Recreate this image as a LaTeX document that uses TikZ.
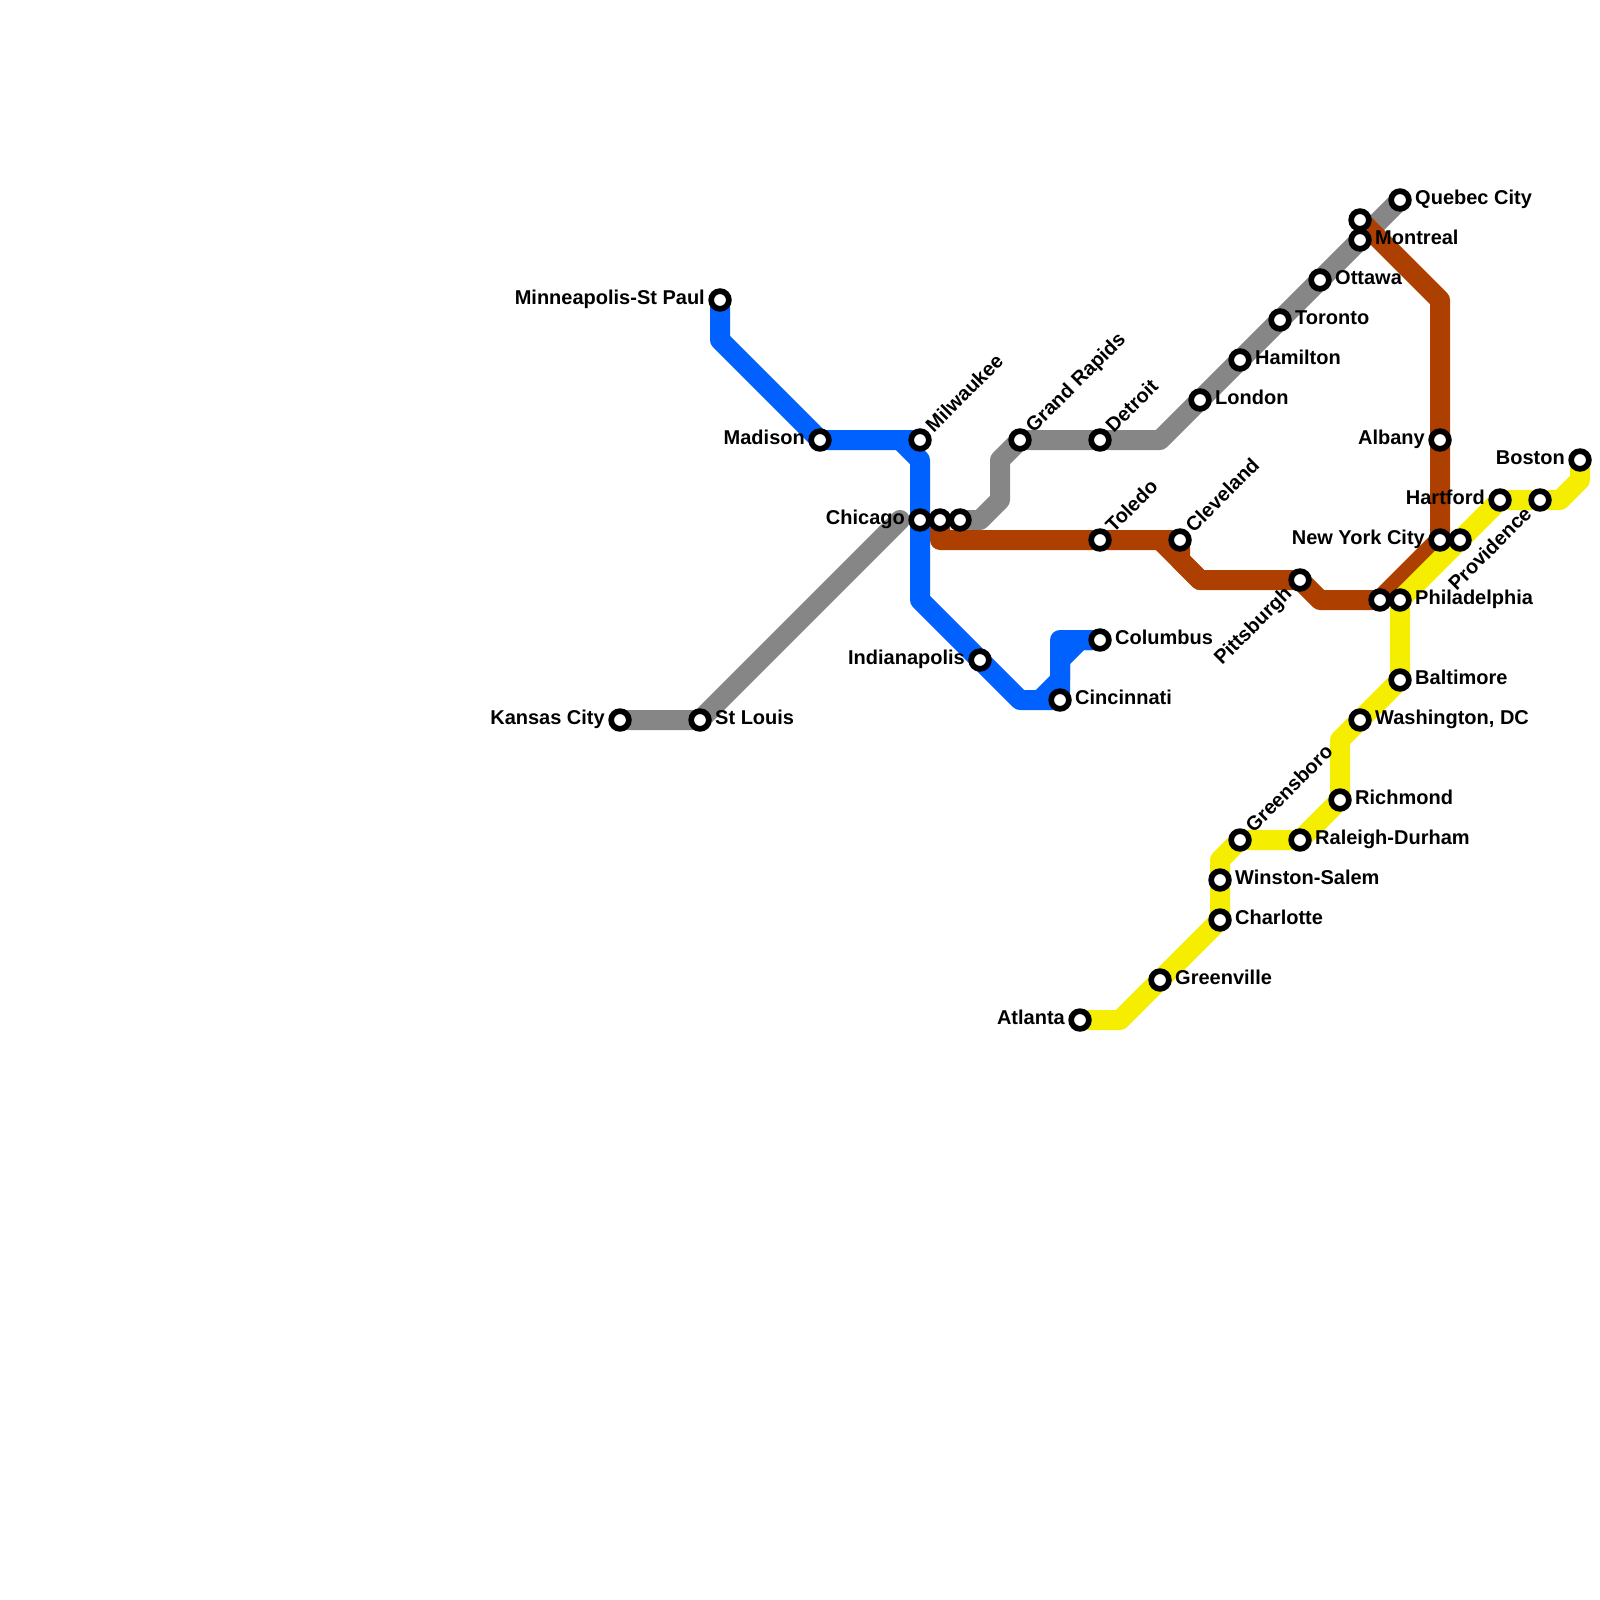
\documentclass[tikz,border=0pt]{standalone}
\usepackage{fontspec}
\setmainfont{Liberation Sans}
\usetikzlibrary{backgrounds}
\definecolor{metroblue}{HTML}{0061FF}
\definecolor{metrogray}{HTML}{868686}
\definecolor{metrobrown}{HTML}{AD3F00}
\definecolor{metroyellow}{HTML}{F5EE00}
\tikzset{
  stn/.style={circle,draw=black,fill=white,line width=2.85pt,minimum size=8.85pt,inner sep=0pt,outer sep=0pt},
  basename/.style={font=\fontsize{10}{12}\selectfont\bfseries,text=black,inner sep=0pt,outer sep=0pt},
  nameright/.style={basename,anchor=base west,xshift=7.6pt,yshift=-2.4pt},
  nameleft/.style={basename,anchor=base east,xshift=-7.6pt,yshift=-2.4pt},
  nameup/.style={basename,anchor=base west,xshift=6.9pt,yshift=3.3pt,rotate=45},
  namedown/.style={basename,anchor=base east,xshift=-3.6pt,yshift=-7.6pt,rotate=45},
  metroline/.style={line width=10pt,line join=round,line cap=round}
}
\begin{document}
\begin{tikzpicture}[x=0.5pt,y=-0.5pt]
  \useasboundingbox (0,0) rectangle (1600,1600);
  \node[stn] (minneapolis) at (720,300) {};
  \node[stn] (madison) at (820,440) {};
  \node[stn] (milwaukee) at (920,440) {};
  \node[stn] (chicago) at (920,520) {};
  \node[stn] (chicagob) at (940,520) {};
  \node[stn] (chicagoc) at (960,520) {};
  \node[stn] (grandrapids) at (1020,440) {};
  \node[stn] (detroit) at (1100,440) {};
  \node[stn] (london) at (1200,400) {};
  \node[stn] (hamilton) at (1240,360) {};
  \node[stn] (toronto) at (1280,320) {};
  \node[stn] (ottawa) at (1320,280) {};
  \node[stn] (montrealb) at (1360,220) {};
  \node[stn] (montreal) at (1360,240) {};
  \node[stn] (quebec) at (1400,200) {};
  \node[stn] (albany) at (1440,440) {};
  \node[stn] (newyork) at (1440,540) {};
  \node[stn] (newyorkb) at (1460,540) {};
  \node[stn] (hartford) at (1500,500) {};
  \node[stn] (providence) at (1540,500) {};
  \node[stn] (boston) at (1580,460) {};
  \node[stn] (phillyb) at (1380,600) {};
  \node[stn] (philly) at (1400,600) {};
  \node[stn] (pittsburgh) at (1300,580) {};
  \node[stn] (baltimore) at (1400,680) {};
  \node[stn] (washington) at (1360,720) {};
  \node[stn] (richmond) at (1340,800) {};
  \node[stn] (raleigh) at (1300,840) {};
  \node[stn] (greensboro) at (1240,840) {};
  \node[stn] (winston) at (1220,880) {};
  \node[stn] (charlotte) at (1220,920) {};
  \node[stn] (greenville) at (1160,980) {};
  \node[stn] (atlanta) at (1080,1020) {};
  \node[stn] (toledo) at (1100,540) {};
  \node[stn] (cleveland) at (1180,540) {};
  \node[stn] (columbus) at (1100,640) {};
  \node[stn] (cincinnati) at (1060,700) {};
  \node[stn] (indianapolis) at (980,660) {};
  \node[stn] (kansascity) at (620,720) {};
  \node[stn] (stlouis) at (700,720) {};

  \node[nameleft] (minneapolisname) at (minneapolis) {Minneapolis-St Paul};
  \node[nameleft] (madisonname) at (madison) {Madison};
  \node[nameup] (milwaukeename) at (milwaukee) {Milwaukee};
  \node[nameleft] (chicagoname) at (chicago) {Chicago};
  \node[nameup] (grandrapidsname) at (grandrapids) {Grand Rapids};
  \node[nameup] (detroitname) at (detroit) {Detroit};
  \node[nameright] (londonname) at (london) {London};
  \node[nameright] (hamiltonname) at (hamilton) {Hamilton};
  \node[nameright] (torontoname) at (toronto) {Toronto};
  \node[nameright] (ottawaname) at (ottawa) {Ottawa};
  \node[nameright] (montrealname) at (montreal) {Montreal};
  \node[nameright] (quebecname) at (quebec) {Quebec City};
  \node[nameleft] (albanyname) at (albany) {Albany};
  \node[nameleft] (newyorkname) at (newyork) {New York City};
  \node[nameleft] (hartfordname) at (hartford) {Hartford};
  \node[namedown] (providencename) at (providence) {Providence};
  \node[nameleft] (bostonname) at (boston) {Boston};
  \node[nameright] (phillyname) at (philly) {Philadelphia};
  \node[namedown] (pittsburghname) at (pittsburgh) {Pittsburgh};
  \node[nameright] (baltimorename) at (baltimore) {Baltimore};
  \node[nameright] (washingtonname) at (washington) {Washington, DC};
  \node[nameright] (richmondname) at (richmond) {Richmond};
  \node[nameright] (raleighname) at (raleigh) {Raleigh-Durham};
  \node[nameup] (greensboroname) at (greensboro) {Greensboro};
  \node[nameright] (winstonname) at (winston) {Winston-Salem};
  \node[nameright] (charlottename) at (charlotte) {Charlotte};
  \node[nameright] (greenvillename) at (greenville) {Greenville};
  \node[nameleft] (atlantaname) at (atlanta) {Atlanta};
  \node[nameup] (toledoname) at (toledo) {Toledo};
  \node[nameup] (clevelandname) at (cleveland) {Cleveland};
  \node[nameright] (columbusname) at (columbus) {Columbus};
  \node[nameright] (cincinnatiname) at (cincinnati) {Cincinnati};
  \node[nameleft] (indianapolisname) at (indianapolis) {Indianapolis};
  \node[nameleft] (kansascityname) at (kansascity) {Kansas City};
  \node[nameright] (stlouisname) at (stlouis) {St Louis};

  \coordinate (grayend) at (900,520);
  \coordinate (grayb) at (980,520);
  \coordinate (grayc) at (1000,500);
  \coordinate (grayd) at (1000,460);
  \coordinate (graye) at (1160,440);
  \coordinate (brownb) at (940,540);
  \coordinate (brownc) at (1180,560);
  \coordinate (brownd) at (1200,580);
  \coordinate (browne) at (1320,600);
  \coordinate (brownf) at (1440,300);
  \coordinate (brownsplit) at (1160,540);
  \coordinate (blueb) at (720,340);
  \coordinate (bluec) at (900,440);
  \coordinate (blued) at (920,460);
  \coordinate (bluee) at (920,600);
  \coordinate (bluef) at (1020,700);
  \coordinate (blueg) at (1040,700);
  \coordinate (blueh) at (1060,680);
  \coordinate (bluei) at (1060,640);
  \coordinate (bluej) at (1060,660);
  \coordinate (bluek) at (1080,640);
  \coordinate (yellowb) at (1580,480);
  \coordinate (yellowc) at (1560,500);
  \coordinate (yellowd) at (1340,740);
  \coordinate (yellowe) at (1220,860);
  \coordinate (yellowf) at (1120,1020);

  \begin{scope}[on background layer]
    \draw[metroline,metrogray] (kansascity.center) -- (stlouis.center) -- (grayend);
    \draw[metroline,metrogray] (chicagoc.center) -- (grayb) -- (grayc) -- (grayd) -- (grandrapids.center) -- (graye) -- (quebec.center);
    \draw[metroline,metrobrown] (chicagob.center) -- (brownb) -- (cleveland.center) -- (brownc) -- (brownd) -- (pittsburgh.center) -- (browne) -- (phillyb.center) -- (newyork.center) -- (brownf) -- (montrealb.center);
    \draw[metroline,metrobrown] (brownsplit) -- (brownd);
    \draw[metroline,metroblue] (minneapolis.center) -- (blueb) -- (madison.center) -- (milwaukee.center);
    \draw[metroline,metroblue] (bluec) -- (blued) -- (bluee) -- (bluef) -- (cincinnati.center);
    \draw[metroline,metroblue] (blueg) -- (blueh) -- (bluei) -- (columbus.center);
    \draw[metroline,metroblue] (cincinnati.center) -- (bluej) -- (bluek) -- (columbus.center);
    \draw[metroline,metroyellow] (boston.center) -- (yellowb) -- (yellowc) -- (hartford.center) -- (philly.center) -- (baltimore.center) -- (yellowd) -- (richmond.center) -- (raleigh.center) -- (greensboro.center) -- (yellowe) -- (charlotte.center) -- (yellowf) -- (atlanta.center);
  \end{scope}
\end{tikzpicture}
\end{document}
